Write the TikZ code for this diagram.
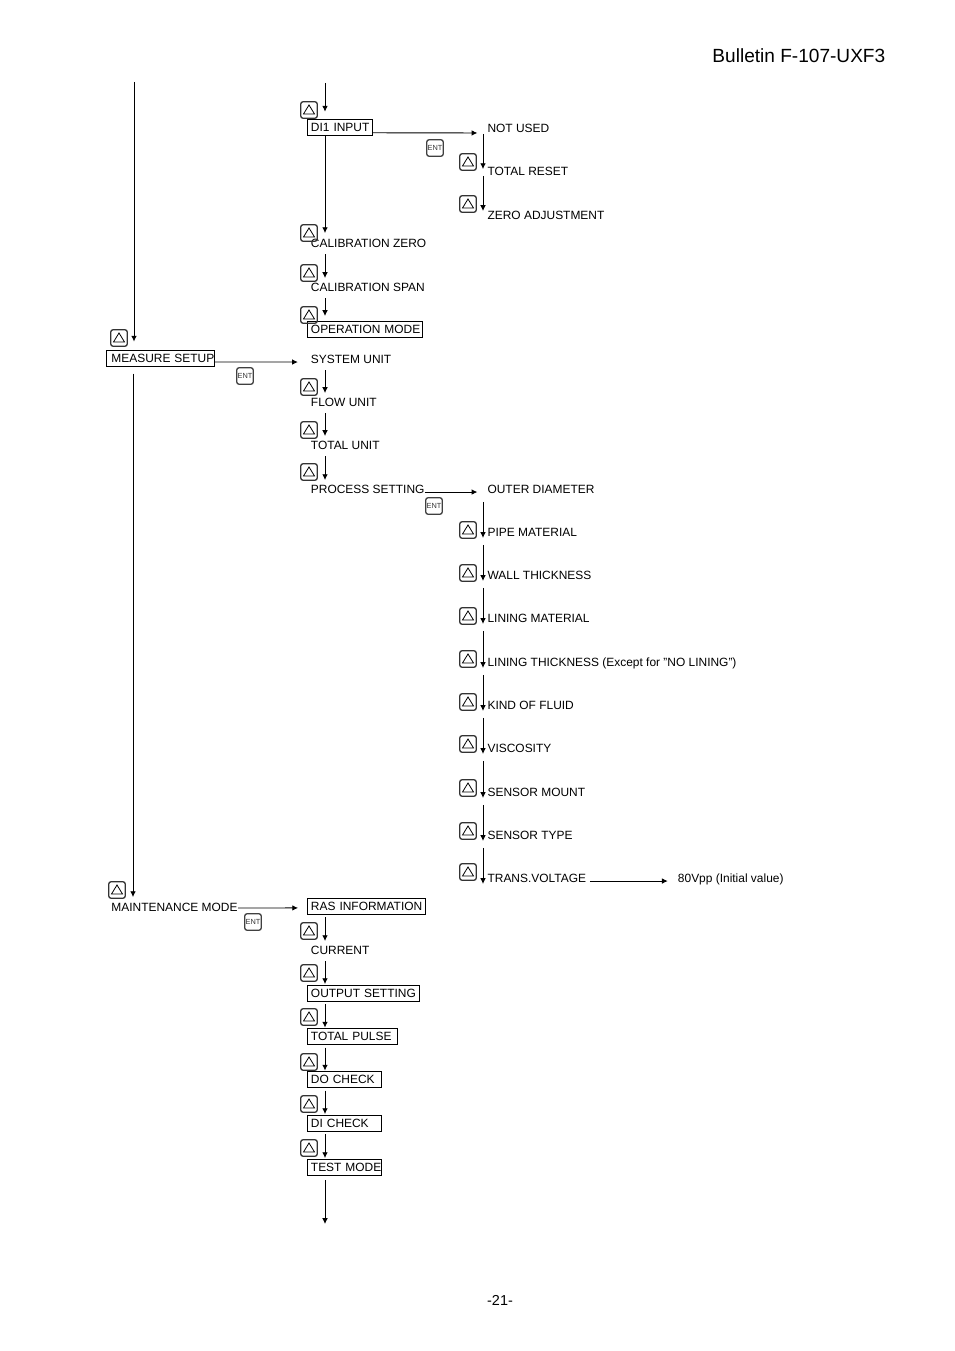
\documentclass[tikz,border=0pt]{standalone}
\usepackage{fontspec}
\setmainfont{Liberation Sans}
\usetikzlibrary{arrows.meta}

\begin{document}
\begin{tikzpicture}[>={Latex[length=3.6pt,width=3.5pt]},x=0.6237pt,y=-0.6237pt,line width=0.55pt]
	\tikzstyle{lab} = [anchor=west,inner xsep=2.2pt,inner ysep=0pt,font=\fontsize{7.45}{9}\selectfont,text height=5.3pt,text depth=0pt];
	\tikzstyle{box} = [lab,draw,inner ysep=2.35pt,align=left,text width={(#1-7)*0.6237pt}];
	\tikzstyle{upbtn} = [draw=black!80,line width=0.8pt,rounded corners=1.6pt,minimum size=10.4pt,inner sep=0pt,
		path picture={\draw[black,line width=0.5pt,sharp corners] ([shift={(-5.5,4)}]path picture bounding box.center) -- ([shift={(5.5,4)}]path picture bounding box.center) -- ([shift={(0,-5)}]path picture bounding box.center) -- cycle;}];
	\tikzstyle{entbtn} = [draw=black!75,line width=0.8pt,rounded corners=1.6pt,minimum size=10.4pt,inner sep=0pt,text=black!80,font=\fontsize{4.6}{4.6}\selectfont];
	\tikzstyle{midflow} = [->,shorten <=6.9pt,shorten >=5.6pt];
	\tikzstyle{rightflow} = [->,shorten <=8.1pt,shorten >=-3.7pt];
	\useasboundingbox (0,0) rectangle (954,1351);
	% column lines
	\coordinate (leftcol) at (134,0);
	\coordinate (midcol) at (325,0);
	\coordinate (rightcol) at (483,0);
	\coordinate (leftstart) at (134,82);
	\coordinate (midstart) at (325,83);
	\coordinate (midend) at (325,1224);
	% page texts
	\node[anchor=west,inner sep=0pt,font=\fontsize{11.9}{14}\selectfont] (bulletin) at (712,56) {Bulletin F-107-UXF3};
	\node[inner sep=0pt,font=\fontsize{9}{10}\selectfont] (pageno) at (500,1300) {-21-};
	% left column
	\node[box=108,inner xsep=3.1pt,text width=98*0.6237pt] (measure) at (106,358) {\mbox{MEASURE SETUP}};
	\node[lab] (maint) at (107.5,907) {MAINTENANCE MODE};
	% middle column
	\node[box=65] (di1) at (307,127.5) {\mbox{DI1 INPUT}};
	\node[lab] (calzero) at (307,243) {CALIBRATION ZERO};
	\node[lab] (calspan) at (307,287) {CALIBRATION SPAN};
	\node[box=115] (opmode) at (307,329) {\mbox{OPERATION MODE}};
	\node[lab] (sysunit) at (307,359) {SYSTEM UNIT};
	\node[lab] (flowunit) at (307,402) {FLOW UNIT};
	\node[lab] (totalunit) at (307,445) {TOTAL UNIT};
	\node[lab] (process) at (307,489) {PROCESS SETTING};
	\node[box=118] (ras) at (307,906) {\mbox{RAS INFORMATION}};
	\node[lab] (current) at (307,950) {CURRENT};
	\node[box=112] (output) at (307,993) {\mbox{OUTPUT SETTING}};
	\node[box=90] (pulse) at (307,1036.5) {TOTAL PULSE};
	\node[box=74] (docheck) at (307,1079.5) {DO CHECK};
	\node[box=74] (dicheck) at (307,1123) {DI CHECK};
	\node[box=74] (testmode) at (307,1167) {\mbox{TEST MODE}};
	% right column
	\node[lab] (notused) at (483.6,128) {NOT USED};
	\node[lab] (reset) at (483.6,171) {TOTAL RESET};
	\node[lab] (zeroadj) at (483.6,215) {ZERO ADJUSTMENT};
	\node[lab] (outer) at (483.6,489) {OUTER DIAMETER};
	\node[lab] (pipe) at (483.6,532) {PIPE MATERIAL};
	\node[lab] (wall) at (483.6,575) {WALL THICKNESS};
	\node[lab] (lining) at (483.6,618) {LINING MATERIAL};
	\node[lab] (linthick) at (483.6,662) {LINING THICKNESS (Except for "NO LINING")};
	\node[lab] (fluid) at (483.6,705) {KIND OF FLUID};
	\node[lab] (visc) at (483.6,748) {VISCOSITY};
	\node[lab] (mount) at (483.6,792) {SENSOR MOUNT};
	\node[lab] (sensor) at (483.6,835) {SENSOR TYPE};
	\node[lab] (trans) at (483.6,878) {TRANS.VOLTAGE};
	\node[lab] (vpp) at (674,878) {80Vpp (Initial value)};
	% keys
	\foreach \n/\x/\y in {a/119/338,b/117/890,c/309/110,d/309/233,e/309/273,f/309/315,g/309/387,h/309/430,i/309/472,
		j/309/931,k/309/973,l/309/1017,m/309/1062,n/309/1104,o/309/1148,p/468/162,q/468/204,r/468/530,s/468/573,
		t/468/616,u/468/659,v/468/702,w/468/744,x/468/788,y/468/831,z/468/872}
		\node[upbtn] (up\n) at (\x,\y) {};
	\foreach \n/\x/\y in {a/435/148,b/245/376,c/434/506,d/253/922}
		\node[entbtn] (ent\n) at (\x,\y) {ENT};
	% vertical connectors
	\draw[->,shorten >=5pt] (leftstart) -- (measure.north -| leftcol);
	\draw[->,shorten <=4.5pt,shorten >=6.2pt] (measure.south -| 133,0) -- (maint.center -| 133,0);
	\draw[->,shorten >=4.6pt] (midstart) -- (di1.north -| midcol);
	\draw[->,shorten >=6.2pt] (di1.south -| midcol) -- (calzero -| midcol);
	\foreach \a/\b in {calzero/calspan,sysunit/flowunit,flowunit/totalunit,totalunit/process,ras/current,current/output,output/pulse,pulse/docheck,docheck/dicheck,dicheck/testmode}
		\draw[midflow] (\a -| midcol) -- (\b -| midcol);
	\draw[midflow,shorten >=8.1pt] (calspan -| midcol) -- (opmode -| midcol);
	\draw[->,shorten <=3pt] (testmode.south -| midcol) -- (midend);
	\draw[rightflow,shorten <=3.7pt,shorten >=1.2pt] (notused -| rightcol) -- (reset -| rightcol);
	\draw[rightflow,shorten <=3.1pt,shorten >=2.5pt] (reset -| rightcol) -- (zeroadj -| rightcol);
	\foreach \a/\b in {outer/pipe,pipe/wall,wall/lining,lining/linthick,linthick/fluid,fluid/visc,visc/mount,mount/sensor,sensor/trans}
		\draw[rightflow] (\a -| rightcol) -- (\b -| rightcol);
	% horizontal connectors
	\draw[->] ([yshift=-3.3pt]di1.east) -- ([xshift=-3.9pt,yshift=-3.1pt]notused.west);
	\draw[->] ([yshift=-2.5pt]measure.east) -- ([xshift=-5.7pt,yshift=-1.9pt]sysunit.west);
	\draw[->] ([xshift=-2.2pt,yshift=-1.9pt]process.east) -- ([xshift=-3.9pt,yshift=-1.9pt]outer.west);
	\draw[->] ([yshift=-1.9pt]trans.east) -- ([xshift=-3.9pt,yshift=-1.9pt]vpp.west);
	\draw[->] ([xshift=-2.2pt,yshift=-0.6pt]maint.east) -- ([xshift=-5.6pt,yshift=-1.2pt]ras.west);
\end{tikzpicture}
\end{document}
